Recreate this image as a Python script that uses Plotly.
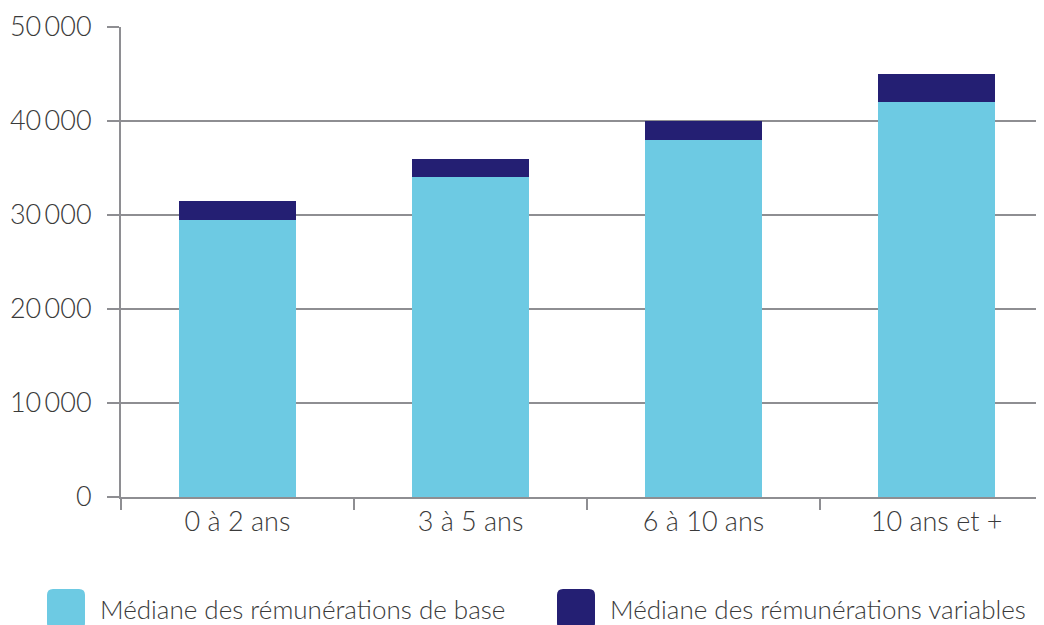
import plotly.graph_objects as go

categories = ["0 à 2 ans", "3 à 5 ans", "6 à 10 ans", "10 ans et +"]
base_values = [29500, 34000, 38000, 42000]
variable_values = [2000, 2000, 2000, 3000]
series_names = ["Médiane des rémunérations de base", "Médiane des rémunérations variables"]
y_tickvals = [0, 10000, 20000, 30000, 40000, 50000]
y_ticktext = ["0", "10\u2009000", "20\u2009000", "30\u2009000", "40\u2009000", "50\u2009000"]

color_base = "#6DCAE3"
color_var = "#241F73"
grid_color = "#8E8E92"
text_color = "#3A3A3A"
FONT = "Lato"
TICK_SIZE = 27
LEGEND_SIZE = 26

fig = go.Figure()
fig.add_trace(go.Bar(x=categories, y=base_values, name=series_names[0],
                     marker=dict(color=color_base, line=dict(width=0)), showlegend=False))
fig.add_trace(go.Bar(x=categories, y=variable_values, name=series_names[1],
                     marker=dict(color=color_var, line=dict(width=0)), showlegend=False))

# the page body adds an 8px offset, so the figure is 8px smaller and shifted
fig.update_layout(
    width=1036, height=617,
    margin=dict(l=113, r=0, t=19, b=128),
    barmode="stack", bargap=0.5,
    plot_bgcolor="white", paper_bgcolor="white",
    font=dict(family=FONT, size=TICK_SIZE, color=text_color, weight=300),
)
fig.update_xaxes(
    type="category", range=[-0.5, 3.461],
    tickson="boundaries", ticks="outside", ticklen=11, tickwidth=2, tickcolor=grid_color,
    showline=True, linecolor=grid_color, linewidth=2, showgrid=False,
    tickfont=dict(family=FONT, size=TICK_SIZE, color=text_color, weight=300),
)
fig.update_yaxes(
    range=[0, 50000], tickvals=y_tickvals, ticktext=y_ticktext,
    ticks="outside", ticklen=12, tickwidth=2, tickcolor=grid_color,
    showline=True, linecolor=grid_color, linewidth=2,
    showgrid=True, gridcolor=grid_color, gridwidth=2, zeroline=False,
    ticklabelstandoff=10,
    tickfont=dict(family=FONT, size=TICK_SIZE, color=text_color, weight=300),
)

def rounded_square(x0, x1, y0, y1, r):
    # pixel offsets; y positive upward
    return (f"M {x0+r},{y0} L {x1-r},{y0} Q {x1},{y0} {x1},{y0-r} "
            f"L {x1},{y1+r} Q {x1},{y1} {x1-r},{y1} L {x0+r},{y1} "
            f"Q {x0},{y1} {x0},{y1+r} L {x0},{y0-r} Q {x0},{y0} {x0+r},{y0} Z")

legend_items = [(series_names[0], color_base, -74, -23), (series_names[1], color_var, 436, 487)]
for name, col, sx, tx in legend_items:
    fig.add_shape(type="path", xref="paper", yref="paper", xsizemode="pixel", ysizemode="pixel",
                  xanchor=0, yanchor=0,
                  path=rounded_square(sx, sx + 38, -92, -132, 6),
                  fillcolor=col, line=dict(width=0))
    fig.add_annotation(text=name, xref="paper", yref="paper", x=0, y=0, xanchor="left",
                       yanchor="middle", xshift=tx, yshift=-112, showarrow=False,
                       font=dict(family=FONT, size=LEGEND_SIZE, color=text_color, weight=300))

fig.write_html("out.html")
